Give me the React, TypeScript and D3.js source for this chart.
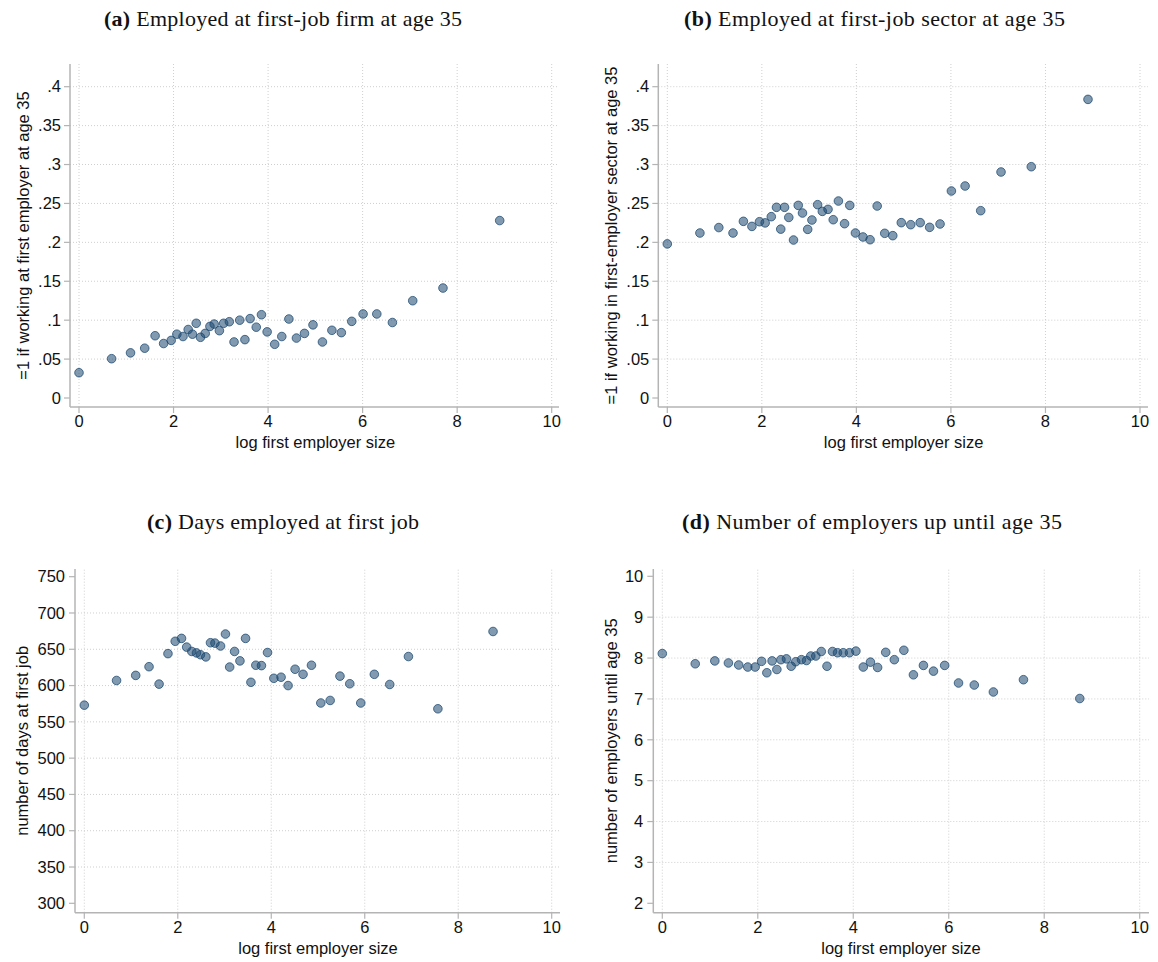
import React from "react";
import * as d3 from "d3";

// x positions (log first employer size) – top row panels (a), (b)
const xTop = [0, 0.69, 1.09, 1.39, 1.61, 1.79, 1.95, 2.07, 2.2, 2.31, 2.4, 2.48, 2.57, 2.67, 2.77, 2.86, 2.97, 3.06, 3.18, 3.28, 3.4, 3.51, 3.62, 3.75, 3.86, 3.98, 4.14, 4.29, 4.44, 4.6, 4.77, 4.95, 5.15, 5.35, 5.55, 5.77, 6.01, 6.3, 6.63, 7.06, 7.7, 8.9];
// (a) employed at first-job firm at age 35
const yA = [0.0325, 0.0505, 0.058, 0.064, 0.08, 0.07, 0.074, 0.082, 0.079, 0.088, 0.082, 0.096, 0.078, 0.083, 0.092, 0.095, 0.0865, 0.096, 0.098, 0.072, 0.1, 0.075, 0.102, 0.091, 0.107, 0.085, 0.069, 0.079, 0.1015, 0.077, 0.083, 0.094, 0.072, 0.087, 0.084, 0.0985, 0.108, 0.108, 0.097, 0.125, 0.1413, 0.228];
// (b) employed at first-job sector at age 35
const yB = [0.198, 0.212, 0.219, 0.212, 0.227, 0.2205, 0.2265, 0.225, 0.233, 0.245, 0.217, 0.245, 0.232, 0.203, 0.2475, 0.2377, 0.2167, 0.2287, 0.2484, 0.2398, 0.2424, 0.2291, 0.2531, 0.224, 0.2475, 0.212, 0.2069, 0.2034, 0.2467, 0.2116, 0.2086, 0.2253, 0.2227, 0.2253, 0.2193, 0.2236, 0.266, 0.2724, 0.2407, 0.2904, 0.2972, 0.3837];
// x positions – bottom row panels (c), (d)
const xBottom = [0, 0.69, 1.1, 1.385, 1.6, 1.79, 1.945, 2.08, 2.19, 2.3, 2.4, 2.485, 2.6, 2.7, 2.795, 2.915, 3.02, 3.11, 3.215, 3.33, 3.45, 3.565, 3.67, 3.79, 3.92, 4.055, 4.21, 4.36, 4.51, 4.68, 4.86, 5.06, 5.26, 5.47, 5.68, 5.915, 6.205, 6.535, 6.935, 7.565, 8.745];
// (c) days employed at first job
const yC = [573, 607, 614, 626, 602, 644, 661, 665, 653, 647, 645, 642.5, 639.5, 659, 658.5, 654.5, 671, 625.5, 647, 634, 665, 604.5, 628, 627.5, 645.5, 610, 611.5, 600, 622.5, 615.5, 628, 576, 579.5, 613, 602.5, 576, 615.5, 601.5, 640, 568, 674.5];
// (d) number of employers until age 35
const yD = [8.11, 7.86, 7.93, 7.88, 7.83, 7.78, 7.78, 7.92, 7.64, 7.93, 7.72, 7.96, 7.98, 7.8, 7.91, 7.96, 7.94, 8.05, 8.05, 8.16, 7.8, 8.16, 8.13, 8.13, 8.13, 8.17, 7.78, 7.9, 7.77, 8.14, 7.96, 8.19, 7.59, 7.82, 7.68, 7.82, 7.39, 7.34, 7.17, 7.47, 7.01];

const xTicks = [0, 2, 4, 6, 8, 10];
const yTicksTop = [0, 0.05, 0.1, 0.15, 0.2, 0.25, 0.3, 0.35, 0.4];
const yTickLabelsTop = ["0", ".05", ".1", ".15", ".2", ".25", ".3", ".35", ".4"];
const yTicksC = [300, 350, 400, 450, 500, 550, 600, 650, 700, 750];
const yTicksD = [2, 3, 4, 5, 6, 7, 8, 9, 10];

const xTitle = "log first employer size";

type Panel = {
  letter: string;
  title: string;
  titleX: number;
  titleY: number;
  titleW: number;
  yTitle: string;
  yTitleX: number;
  box: { left: number; top: number; right: number; bottom: number };
  xRange: [number, number];
  yDomain: [number, number];
  yRange: [number, number];
  yTicks: number[];
  yLabels: string[];
  noGrid: number[];
  labelGap: number;
  xs: number[];
  ys: number[];
};

const panels: Panel[] = [
  {
    letter: "(a)", title: " Employed at first-job firm at age 35", titleX: 104, titleY: 26, titleW: 358,
    yTitle: "=1 if working at first employer at age 35", yTitleX: 23,
    box: { left: 70, top: 64, right: 559, bottom: 407 },
    xRange: [79, 551.7], yDomain: [0, 0.4], yRange: [398, 86.7],
    yTicks: yTicksTop, yLabels: yTickLabelsTop, noGrid: [0], labelGap: 9,
    xs: xTop, ys: yA,
  },
  {
    letter: "(b)", title: " Employed at first-job sector at age 35", titleX: 684, titleY: 26, titleW: 381,
    yTitle: "=1 if working in first-employer sector at age 35", yTitleX: 611,
    box: { left: 658.3, top: 64, right: 1148, bottom: 407 },
    xRange: [667.3, 1140], yDomain: [0, 0.4], yRange: [398, 86.7],
    yTicks: yTicksTop, yLabels: yTickLabelsTop, noGrid: [0], labelGap: 9,
    xs: xTop, ys: yB,
  },
  {
    letter: "(c)", title: " Days employed at first job", titleX: 147, titleY: 529, titleW: 272,
    yTitle: "number of days at first job", yTitleX: 22,
    box: { left: 75, top: 569, right: 560, bottom: 912.7 },
    xRange: [84.3, 551.7], yDomain: [300, 750], yRange: [903.3, 576.7],
    yTicks: yTicksC, yLabels: yTicksC.map(String), noGrid: [300, 750], labelGap: 10,
    xs: xBottom, ys: yC,
  },
  {
    letter: "(d)", title: " Number of employers up until age 35", titleX: 682, titleY: 529, titleW: 380,
    yTitle: "number of employers until age 35", yTitleX: 611,
    box: { left: 653.3, top: 569, right: 1149, bottom: 912.7 },
    xRange: [662.3, 1139.7], yDomain: [2, 10], yRange: [903.3, 576.3],
    yTicks: yTicksD, yLabels: yTicksD.map(String), noGrid: [2, 10], labelGap: 10,
    xs: xBottom, ys: yD,
  },
];

const sans = "'Liberation Sans', Arial, Helvetica, sans-serif";
const serif = "'Liberation Serif', 'Times New Roman', serif";
const axisColor = "#b4b4b4";
const gridColor = "#cfcfcf";

function PanelView({ p }: { p: Panel }) {
  const x = d3.scaleLinear().domain([0, 10]).range(p.xRange);
  const y = d3.scaleLinear().domain(p.yDomain).range(p.yRange);
  const { left, top, right, bottom } = p.box;
  const midX = (p.xRange[0] + p.xRange[1]) / 2;
  const midY = (top + bottom) / 2;
  return (
    <g>
      <text
        x={p.titleX}
        y={p.titleY}
        textLength={p.titleW}
        lengthAdjust="spacing"
        fontFamily={serif}
        fontSize={22}
        fill="#111"
      >
        <tspan fontWeight="bold">{p.letter}</tspan>
        <tspan>{p.title}</tspan>
      </text>
      {/* grid */}
      {xTicks.map((t) => (
        <line key={"vx" + t} x1={x(t)} x2={x(t)} y1={bottom} y2={top} stroke={gridColor} strokeWidth={1} strokeDasharray="1 2" />
      ))}
      {p.yTicks.filter((t) => !p.noGrid.includes(t)).map((t) => (
        <line key={"hy" + t} x1={left} x2={right} y1={y(t)} y2={y(t)} stroke={gridColor} strokeWidth={1} strokeDasharray="1 2" />
      ))}
      {/* axes */}
      <line x1={left} x2={left} y1={top} y2={bottom} stroke={axisColor} strokeWidth={1.5} />
      <line x1={left} x2={right} y1={bottom} y2={bottom} stroke={axisColor} strokeWidth={1.5} />
      {p.yTicks.map((t, i) => (
        <g key={"yt" + t}>
          <line x1={left - 6} x2={left} y1={y(t)} y2={y(t)} stroke={axisColor} strokeWidth={1.2} />
          <text x={left - p.labelGap} y={y(t)} dy="0.35em" textAnchor="end" fontFamily={sans} fontSize={16.5} fill="#111">
            {p.yLabels[i]}
          </text>
        </g>
      ))}
      {xTicks.map((t) => (
        <g key={"xt" + t}>
          <line x1={x(t)} x2={x(t)} y1={bottom} y2={bottom + 6} stroke={axisColor} strokeWidth={1.2} />
          <text x={x(t)} y={bottom + 20} textAnchor="middle" fontFamily={sans} fontSize={16.5} fill="#111">
            {t}
          </text>
        </g>
      ))}
      <text x={midX} y={bottom + 41} textAnchor="middle" fontFamily={sans} fontSize={16.5} fill="#111">
        {xTitle}
      </text>
      <text
        transform={`translate(${p.yTitleX},${midY}) rotate(-90)`}
        textAnchor="middle"
        dy="0.35em"
        fontFamily={sans}
        fontSize={16.5}
        fill="#111"
      >
        {p.yTitle}
      </text>
      {/* markers */}
      {p.xs.map((v, i) => (
        <circle
          key={"pt" + i}
          cx={x(v)}
          cy={y(p.ys[i])}
          r={4.3}
          fill="#1a476f"
          fillOpacity={0.55}
          stroke="#1a476f"
          strokeOpacity={0.75}
          strokeWidth={1}
        />
      ))}
    </g>
  );
}

export default function App() {
  return (
    <svg
      width={1158}
      height={962}
      viewBox="0 0 1158 962"
      style={{ position: "absolute", left: 0, top: 0, background: "#fff" }}
    >
      <rect x={0} y={0} width={1158} height={962} fill="#fff" />
      {panels.map((p) => (
        <PanelView key={p.letter} p={p} />
      ))}
    </svg>
  );
}
